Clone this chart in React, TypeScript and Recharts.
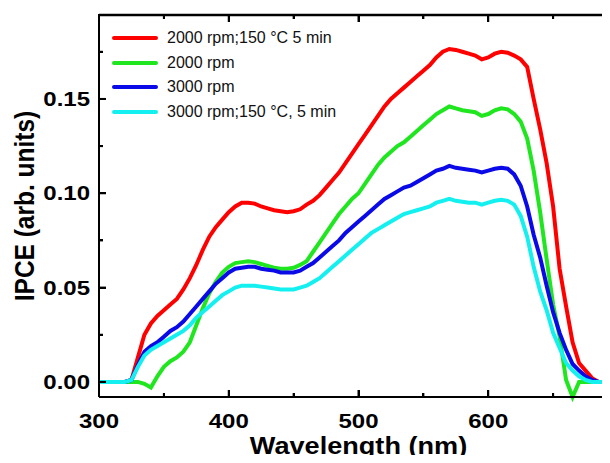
import React from 'react';
import { LineChart, Line, XAxis, YAxis, Legend, ReferenceLine } from 'recharts';

const wavelengths = [
  300, 305, 310, 315, 320, 325, 330, 335, 340, 345,
  350, 355, 360, 365, 370, 375, 380, 385, 390, 395,
  400, 405, 410, 415, 420, 425, 430, 435, 440, 445,
  450, 455, 460, 465, 470, 475, 480, 485, 490, 495,
  500, 505, 510, 515, 520, 525, 530, 535, 540, 545,
  550, 555, 560, 565, 570, 575, 580, 585, 590, 595,
  600, 605, 610, 615, 620, 625, 630, 635, 640, 645,
  650, 655, 660, 665, 670, 675, 680, 685, 690, 695,
  700,
];

const rpm2000Annealed = [
  0, 0, 0, 0, 0, 0.001, 0.013, 0.025, 0.031, 0.035,
  0.038, 0.041, 0.044, 0.049, 0.055, 0.062, 0.07, 0.077, 0.082, 0.086,
  0.09, 0.093, 0.095, 0.095, 0.0945, 0.093, 0.092, 0.091, 0.0905, 0.09,
  0.0905, 0.0915, 0.094, 0.096, 0.099, 0.103, 0.107, 0.111, 0.116, 0.121,
  0.126, 0.131, 0.136, 0.141, 0.146, 0.15, 0.153, 0.156, 0.159, 0.162,
  0.165, 0.168, 0.172, 0.175, 0.1765, 0.176, 0.175, 0.174, 0.173, 0.171,
  0.172, 0.174, 0.175, 0.1745, 0.173, 0.171, 0.167, 0.15, 0.134, 0.116,
  0.093, 0.06, 0.04, 0.021, 0.01, 0.006, 0.002, 0, 0, 0,
  0,
];

const rpm2000 = [
  0, 0, 0, 0, 0, 0, 0, -0.001, -0.003, 0.003,
  0.008, 0.011, 0.013, 0.016, 0.021, 0.03, 0.039, 0.047, 0.053, 0.058,
  0.061, 0.063, 0.0635, 0.064, 0.0635, 0.0625, 0.0615, 0.0605, 0.06, 0.06,
  0.0605, 0.062, 0.064, 0.069, 0.074, 0.079, 0.084, 0.089, 0.093, 0.097,
  0.1, 0.105, 0.11, 0.115, 0.119, 0.122, 0.125, 0.127, 0.13, 0.133,
  0.136, 0.139, 0.142, 0.144, 0.146, 0.145, 0.144, 0.1435, 0.143, 0.141,
  0.142, 0.144, 0.145, 0.1445, 0.142, 0.138, 0.129, 0.112, 0.09, 0.065,
  0.041, 0.024, 0.001, -0.008, 0, 0, 0, 0, 0, 0,
  0,
];

const rpm3000 = [
  0, 0, 0, 0, 0, 0.001, 0.009, 0.016, 0.019, 0.021,
  0.024, 0.027, 0.029, 0.032, 0.036, 0.04, 0.044, 0.048, 0.052, 0.055,
  0.058, 0.06, 0.0605, 0.061, 0.061, 0.06, 0.0595, 0.059, 0.058, 0.058,
  0.058, 0.059, 0.061, 0.063, 0.066, 0.069, 0.072, 0.075, 0.079, 0.082,
  0.085, 0.088, 0.091, 0.094, 0.097, 0.099, 0.101, 0.103, 0.104, 0.106,
  0.108, 0.11, 0.112, 0.113, 0.1145, 0.1135, 0.113, 0.1125, 0.112, 0.111,
  0.112, 0.113, 0.1135, 0.113, 0.11, 0.104, 0.093, 0.078, 0.066, 0.051,
  0.037, 0.026, 0.017, 0.0095, 0.006, 0.003, 0.001, 0, 0, 0,
  0,
];

const rpm3000Annealed = [
  0, 0, 0, 0, 0, 0.001, 0.008, 0.014, 0.017, 0.019,
  0.021, 0.023, 0.025, 0.027, 0.03, 0.034, 0.037, 0.04, 0.043, 0.046,
  0.048, 0.05, 0.051, 0.051, 0.051, 0.0505, 0.05, 0.0495, 0.049, 0.049,
  0.049, 0.05, 0.051, 0.053, 0.055, 0.058, 0.061, 0.064, 0.067, 0.07,
  0.073, 0.076, 0.079, 0.081, 0.083, 0.085, 0.087, 0.089, 0.09, 0.091,
  0.092, 0.093, 0.095, 0.096, 0.097, 0.096, 0.0955, 0.095, 0.095, 0.094,
  0.095, 0.096, 0.0965, 0.096, 0.094, 0.088, 0.077, 0.061, 0.048, 0.038,
  0.026, 0.018, 0.01, 0.006, 0.003, 0.001, 0, 0, 0, 0,
  0,
];

const seriesNames = [
  '2000 rpm;150 °C 5 min',
  '2000 rpm',
  '3000 rpm',
  '3000 rpm;150 °C, 5 min',
];
const seriesKeys = ['a', 'b', 'c', 'd'];
const seriesColors = ['#ff0000', '#20e620', '#0a0ae8', '#14f0f0'];

const xLabelTicks = [300, 400, 500, 600];
const xMajorTicks = [300, 400, 500, 600, 700];
const xAllTicks = [300, 350, 400, 450, 500, 550, 600, 650, 700];
const yMajorTicks = [0, 0.05, 0.1, 0.15];
const yAllTicks = [0, 0.025, 0.05, 0.075, 0.1, 0.125, 0.15, 0.175];

const xDomain = [300, 700];
const yDomain = [-0.008, 0.1945];

const data = wavelengths.map((w, i) => ({
  w,
  a: rpm2000Annealed[i],
  b: rpm2000[i],
  c: rpm3000[i],
  d: rpm3000Annealed[i],
}));

const FONT = "'Liberation Sans', Arial, Helvetica, sans-serif";

const CHART_W = 640;
const CHART_H = 463;
const M_TOP = 15;
const M_RIGHT = 22;
const Y_AXIS_W = 99;
const X_AXIS_H = 66;
const PLOT_W = CHART_W - M_RIGHT - Y_AXIS_W;
const PLOT_H = CHART_H - M_TOP - X_AXIS_H;

const MAJOR_PX = 7;
const MINOR_PX = 4;
const yPerPx = (yDomain[1] - yDomain[0]) / PLOT_H;
const xPerPx = (xDomain[1] - xDomain[0]) / PLOT_W;

const inList = (list: number[], v: number) => list.some((m) => Math.abs(m - v) < 1e-9);

// same linear mapping the axes use (for the frame decoration overlay)
const px = (v: number) => Y_AXIS_W + ((v - xDomain[0]) / (xDomain[1] - xDomain[0])) * PLOT_W;
const py = (v: number) => M_TOP + ((yDomain[1] - v) / (yDomain[1] - yDomain[0])) * PLOT_H;

function BottomTick(props: any) {
  const { x, y, payload } = props;
  const v = payload.value;
  const major = inList(xMajorTicks, v);
  return (
    <g>
      <line x1={x} x2={x} y1={y} y2={y - (major ? MAJOR_PX : MINOR_PX)} stroke="#000" strokeWidth={2} />
      {inList(xLabelTicks, v) && (
        <text
          transform={`translate(${x},${y + 31}) scale(1.2,1)`}
          textAnchor="middle"
          fontSize={20}
          fontWeight="bold"
          fontFamily={FONT}
          fill="#000"
        >
          {v}
        </text>
      )}
    </g>
  );
}

function LeftTick(props: any) {
  const { x, y, payload } = props;
  const v = payload.value;
  const major = inList(yMajorTicks, v);
  return (
    <g>
      <line x1={x} x2={x + (major ? MAJOR_PX : MINOR_PX)} y1={y} y2={y} stroke="#000" strokeWidth={2} />
      {major && (
        <text
          transform={`translate(${x - 9},${y + 7}) scale(1.2,1)`}
          textAnchor="end"
          fontSize={20}
          fontWeight="bold"
          fontFamily={FONT}
          fill="#000"
        >
          {v.toFixed(2)}
        </text>
      )}
    </g>
  );
}

function XLabel(props: any) {
  const vb = props.viewBox || {};
  const cx = vb.x + vb.width / 2;
  return (
    <text
      transform={`translate(${cx},${vb.y + 57}) scale(1.13,1)`}
      textAnchor="middle"
      fontSize={24}
      fontWeight="bold"
      fontFamily={FONT}
      fill="#000"
    >
      Wavelength (nm)
    </text>
  );
}

function YLabel(props: any) {
  const vb = props.viewBox || {};
  const cy = vb.y + vb.height / 2;
  return (
    <text
      transform={`translate(${vb.x + 34},${cy}) rotate(-90) scale(1,1.13)`}
      textAnchor="middle"
      fontSize={24.5}
      fontWeight="bold"
      fontFamily={FONT}
      fill="#000"
    >
      IPCE (arb. units)
    </text>
  );
}

function LegendContent() {
  return (
    <div style={{ fontFamily: FONT, fontSize: 16, color: '#111' }}>
      {seriesNames.map((name, i) => (
        <div key={name} style={{ display: 'flex', alignItems: 'center', height: 24.5 }}>
          <span
            style={{
              display: 'inline-block',
              width: 46,
              height: 4,
              background: seriesColors[i],
              marginRight: 9,
              borderRadius: 2,
            }}
          />
          <span style={{ whiteSpace: 'nowrap' }}>{name}</span>
        </div>
      ))}
    </div>
  );
}

function FrameOverlay() {
  const bar = (key: string, left: number, top: number, w: number, h: number) => (
    <div
      key={key}
      style={{ position: 'absolute', left, top, width: w, height: h, background: '#000', pointerEvents: 'none' }}
    />
  );
  const items: React.ReactNode[] = [];
  items.push(bar('top', Y_AXIS_W - 1, M_TOP - 1, PLOT_W + 2, 2));
  xAllTicks.forEach((t) => {
    const len = inList(xMajorTicks, t) ? MAJOR_PX : MINOR_PX;
    items.push(bar(`tt${t}`, px(t) - 1, M_TOP, 2, len));
    items.push(bar(`tb${t}`, px(t) - 1, M_TOP + PLOT_H - len, 2, len));
  });
  yAllTicks.forEach((t) => {
    const len = inList(yMajorTicks, t) ? MAJOR_PX : MINOR_PX;
    items.push(bar(`tl${t}`, Y_AXIS_W, py(t) - 1, len, 2));
  });
  return <>{items}</>;
}

export default function App() {
  const frame: React.ReactNode[] = [];
  xAllTicks.forEach((t) => {
    const len = (inList(xMajorTicks, t) ? MAJOR_PX : MINOR_PX) * yPerPx;
    frame.push(
      <ReferenceLine
        key={`xt${t}`}
        xAxisId="bottom"
        yAxisId="left"
        segment={[{ x: t, y: yDomain[1] }, { x: t, y: yDomain[1] - len }]}
        stroke="#000"
        strokeWidth={2}
        ifOverflow="visible"
      />,
    );
  });
  yAllTicks.forEach((t) => {
    const len = (inList(yMajorTicks, t) ? MAJOR_PX : MINOR_PX) * xPerPx;
    frame.push(
      <ReferenceLine
        key={`yr${t}`}
        xAxisId="bottom"
        yAxisId="left"
        segment={[{ x: xDomain[1], y: t }, { x: xDomain[1] - len, y: t }]}
        stroke="#000"
        strokeWidth={2}
        ifOverflow="visible"
      />,
    );
  });

  return (
    <div
      style={{
        position: 'relative',
        width: 610,
        height: 463,
        overflow: 'hidden',
        margin: -8,
      }}
    >
      <LineChart
        width={CHART_W}
        height={CHART_H}
        data={data}
        margin={{ top: M_TOP, right: M_RIGHT, bottom: 0, left: 0 }}
      >
        <XAxis
          xAxisId="bottom"
          type="number"
          dataKey="w"
          domain={xDomain}
          ticks={xAllTicks}
          interval={0}
          height={X_AXIS_H}
          tickSize={0}
          tickMargin={0}
          tickLine={false}
          tick={BottomTick}
          axisLine={{ stroke: '#000', strokeWidth: 2 }}
          label={XLabel}
        />
        <YAxis
          yAxisId="left"
          type="number"
          domain={yDomain}
          ticks={yAllTicks}
          interval={0}
          width={Y_AXIS_W}
          tickSize={0}
          tickMargin={0}
          tickLine={false}
          tick={LeftTick}
          axisLine={{ stroke: '#000', strokeWidth: 2 }}
          label={YLabel}
        />
        <ReferenceLine
          xAxisId="bottom"
          yAxisId="left"
          y={yDomain[1]}
          stroke="#000"
          strokeWidth={2.5}
          ifOverflow="visible"
        />
        <ReferenceLine
          xAxisId="bottom"
          yAxisId="left"
          x={xDomain[1]}
          stroke="#000"
          strokeWidth={2.5}
          ifOverflow="visible"
        />
        {frame}
        <Legend
          layout="vertical"
          align="center"
          verticalAlign="middle"
          content={LegendContent}
          wrapperStyle={{ left: 112, top: 26, width: 280 }}
        />
        {seriesKeys.map((k, i) => (
          <Line
            key={k}
            xAxisId="bottom"
            yAxisId="left"
            type="linear"
            dataKey={k}
            name={seriesNames[i]}
            stroke={seriesColors[i]}
            strokeWidth={4}
            dot={false}
            activeDot={false}
            isAnimationActive={false}
          />
        ))}
      </LineChart>
      <FrameOverlay />
    </div>
  );
}
